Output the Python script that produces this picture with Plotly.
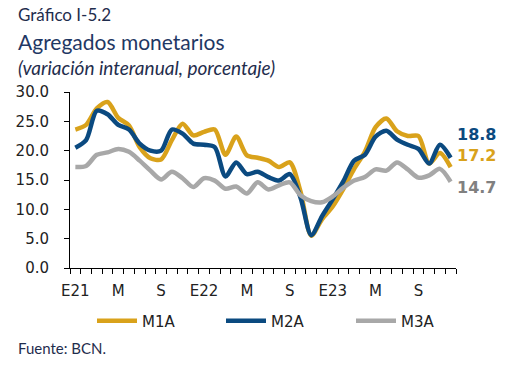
import plotly.graph_objects as go

months = list(range(36))  # Jan 2021 .. Dec 2023
tick_pos = [0, 4, 8, 12, 16, 20, 24, 28, 32]
tick_text = ["E21", "M", "S", "E22", "M", "S", "E23", "M", "S"]

m1a = [23.6, 24.4, 27.2, 28.3, 25.6, 24.3, 20.6, 18.7, 18.5, 21.8,
       24.6, 22.6, 23.2, 23.6, 19.3, 22.4, 19.2, 18.8, 18.3, 17.2,
       18.0, 13.0, 5.5, 8.3, 10.5, 13.5, 16.9, 19.8, 24.0, 25.5,
       23.3, 22.5, 22.5, 17.8, 19.6, 17.2]
m2a = [20.5, 21.8, 26.8, 26.2, 24.4, 23.6, 21.2, 20.0, 20.0, 23.6,
       22.9, 21.2, 21.0, 20.6, 15.6, 18.0, 16.0, 16.4, 15.5, 14.9,
       16.0, 12.0, 5.6, 8.8, 11.7, 14.8, 18.3, 19.3, 22.4, 23.4,
       21.9, 21.0, 20.3, 17.8, 21.0, 18.8]
m3a = [17.2, 17.4, 19.3, 19.7, 20.3, 19.8, 18.3, 16.6, 15.1, 16.4,
       15.3, 13.8, 15.3, 14.9, 13.5, 13.9, 12.7, 14.6, 13.4, 14.1,
       14.6, 12.4, 11.4, 11.2, 12.2, 13.7, 14.9, 15.5, 16.8, 16.6,
       18.0, 16.8, 15.4, 15.8, 16.9, 14.7]

series = [
    ("M1A", m1a, "#D9A21B", "#D9A21B", 12, "legend", 92),
    ("M2A", m2a, "#0B4A80", "#0B4A80", 23, "legend2", 221),
    ("M3A", m3a, "#A8A8A8", "#808080", -6, "legend3", 351),
]

W, H = 510, 367
L, R, T, B = 70, 54, 92, 99
pw, ph = W - L - R, H - T - B


def px_x(x):
    return (x - L) / pw


def px_y(y):
    return 1 - (y - T) / ph


fig = go.Figure()
for name, vals, color, _, _, leg, _ in series:
    fig.add_trace(go.Scatter(
        x=months, y=vals, name=name, mode="lines", legend=leg,
        line=dict(color=color, width=4.5, shape="spline", smoothing=0.8),
    ))

for name, vals, color, lcolor, yshift, _, _ in series:
    fig.add_annotation(
        x=months[-1], y=vals[-1], xref="x", yref="y",
        text="<b>%.1f</b>" % vals[-1], showarrow=False,
        xanchor="left", yanchor="middle", xshift=4, yshift=yshift,
        font=dict(family="DejaVu Sans", size=16, color=lcolor),
    )

texts = [
    ("Gráfico I-5.2", 14, dict(family="Lato", size=17, color="#1F2D4D")),
    ("Agregados monetarios", 42, dict(family="Lato", size=21, color="#1F3864")),
    ("<i>(variación interanual, porcentaje)</i>", 67, dict(family="Lato", size=19, color="#1F2D4D")),
    ("Fuente: BCN.", 348, dict(family="Lato", size=15, color="#1F2D4D")),
]
for txt, ypix, font in texts:
    fig.add_annotation(
        x=px_x(16), y=px_y(ypix), xref="paper", yref="paper",
        text=txt, showarrow=False, xanchor="left", yanchor="middle", font=font,
    )

legend_style = dict(
    orientation="h", y=px_y(321), xanchor="left", yanchor="middle",
    font=dict(family="DejaVu Sans", size=15, color="#222"),
    bgcolor="rgba(0,0,0,0)", itemwidth=40,
)
layout_legends = {}
for _, _, _, _, _, leg, lx in series:
    layout_legends[leg] = dict(legend_style, x=px_x(lx))

fig.update_layout(
    width=W, height=H,
    margin=dict(l=L, r=R, t=T, b=B),
    paper_bgcolor="white", plot_bgcolor="white",
    showlegend=True,
    **layout_legends,
    xaxis=dict(
        range=[-0.5, 35.5], tickmode="array", tickvals=tick_pos, ticktext=tick_text,
        ticks="", showgrid=False, zeroline=False,
        showline=True, linecolor="black", linewidth=1,
        tickfont=dict(family="DejaVu Sans", size=15, color="#222"),
        ticklabelstandoff=9,
        minor=dict(tickmode="array", tickvals=[i - 0.5 for i in range(37)],
                   ticks="outside", ticklen=5, tickcolor="black", tickwidth=1,
                   showgrid=False),
        fixedrange=True,
    ),
    yaxis=dict(
        range=[0, 30], tickmode="array", tickvals=[0, 5, 10, 15, 20, 25, 30],
        ticktext=["%.1f" % v for v in [0, 5, 10, 15, 20, 25, 30]],
        ticks="outside", ticklen=5, tickcolor="black",
        showgrid=False, zeroline=False,
        showline=True, linecolor="black", linewidth=1,
        tickfont=dict(family="DejaVu Sans", size=15, color="#222"),
        ticklabelstandoff=12,
        fixedrange=True,
    ),
)

fig.write_html("out.html", config={"displayModeBar": False},
               post_script="document.body.style.margin='0';document.body.style.overflow='hidden';")
